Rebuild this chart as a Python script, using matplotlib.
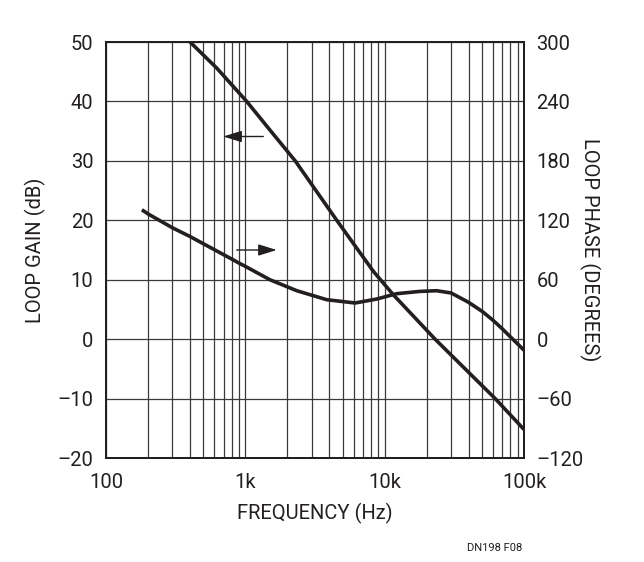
import matplotlib
matplotlib.use('Agg')
import matplotlib.pyplot as plt
from matplotlib.ticker import LogLocator, NullFormatter, FixedLocator, FixedFormatter

# data
gain_freq = [401, 624, 1023, 1500, 2280, 3000, 4530, 8300, 11500, 23000, 62100, 100000]
gain_db = [50, 45.6, 40, 35.2, 30, 26, 20, 11.4, 7.5, 0, -10, -15.2]

phase_freq = [181, 200, 300, 400, 500, 600, 700, 800, 900, 1000, 1500, 2340,
              3840, 6140, 8770, 12200, 17900, 23600, 30000, 40000, 50000,
              60000, 70000, 80000, 90000, 100000]
phase_deg = [130.6, 126.5, 112.4, 103.7, 96.3, 90.3, 85.2, 80.8, 76.8, 73.5,
             60, 48.9, 39.8, 36.5, 40.5, 45.9, 48.2, 48.9, 46.6, 37.2, 28.1,
             19.0, 10.3, 2.2, -4.8, -11.2]

x_ticks = [100, 1000, 10000, 100000]
x_labels = ["100", "1k", "10k", "100k"]
gain_ticks = [-20, -10, 0, 10, 20, 30, 40, 50]
phase_ticks = [-120, -60, 0, 60, 120, 180, 240, 300]

text = "#231f20"
plt.rcParams.update({
    "font.family": ["Roboto", "DejaVu Sans"],
    "font.size": 14, "text.color": text, "axes.labelcolor": text,
    "xtick.color": text, "ytick.color": text,
})

fig = plt.figure(figsize=(6.44, 5.62), dpi=100)
ax = fig.add_axes([106 / 644, 1 - 458 / 562, 418 / 644, 416 / 562])
ax2 = ax.twinx()

ax.set_xscale("log")
ax.set_xlim(100, 100000)
ax.set_ylim(-20, 50)
ax2.set_ylim(-120, 300)

# grid
ax.xaxis.set_major_locator(FixedLocator(x_ticks))
ax.xaxis.set_major_formatter(FixedFormatter(x_labels))
ax.xaxis.set_minor_locator(LogLocator(base=10, subs=range(2, 10), numticks=20))
ax.xaxis.set_minor_formatter(NullFormatter())
ax.set_yticks(gain_ticks)
ax.set_yticklabels([str(v).replace("-", "\u2013") for v in gain_ticks])
ax2.set_yticks(phase_ticks)
ax2.set_yticklabels([str(v).replace("-", "\u2013") for v in phase_ticks])
ax.grid(True, which="both", axis="x", color="#3a3a3a", lw=0.9)
ax.grid(True, which="major", axis="y", color="#3a3a3a", lw=0.9)
ax.set_axisbelow(True)

for a in (ax, ax2):
    a.tick_params(which="both", length=0, labelsize=14.5)
    for s in a.spines.values():
        s.set_linewidth(1.4)
        s.set_color("#231f20")
ax.tick_params(axis="x", pad=11)
ax.tick_params(axis="y", pad=9)
ax2.tick_params(axis="y", pad=9)

ax.plot(gain_freq, gain_db, color="#231f20", lw=2.6, solid_capstyle="butt")
ax2.plot(phase_freq, phase_deg, color="#231f20", lw=2.6, solid_capstyle="butt")

# arrows marking which axis each curve belongs to
ax.annotate("", xy=(695, 34.1), xytext=(1346, 34.1),
            arrowprops=dict(arrowstyle="-|>,head_length=0.8,head_width=0.25",
                            color="#231f20", lw=1.0, shrinkA=0, shrinkB=0))
ax.annotate("", xy=(1679, 15.0), xytext=(867, 15.0),
            arrowprops=dict(arrowstyle="-|>,head_length=0.8,head_width=0.25",
                            color="#231f20", lw=1.0, shrinkA=0, shrinkB=0))

ax.set_xlabel("FREQUENCY (Hz)", fontsize=14.5, labelpad=8)
ax.set_ylabel("LOOP GAIN (dB)", fontsize=14.5, labelpad=8)
ax2.set_ylabel("LOOP PHASE (DEGREES)", fontsize=14.5, rotation=-90, labelpad=12)

fig.text(495 / 644, 1 - 548 / 562, "DN198 F08", fontsize=8, ha="center", va="center")

fig.savefig("out.png", dpi=100)
